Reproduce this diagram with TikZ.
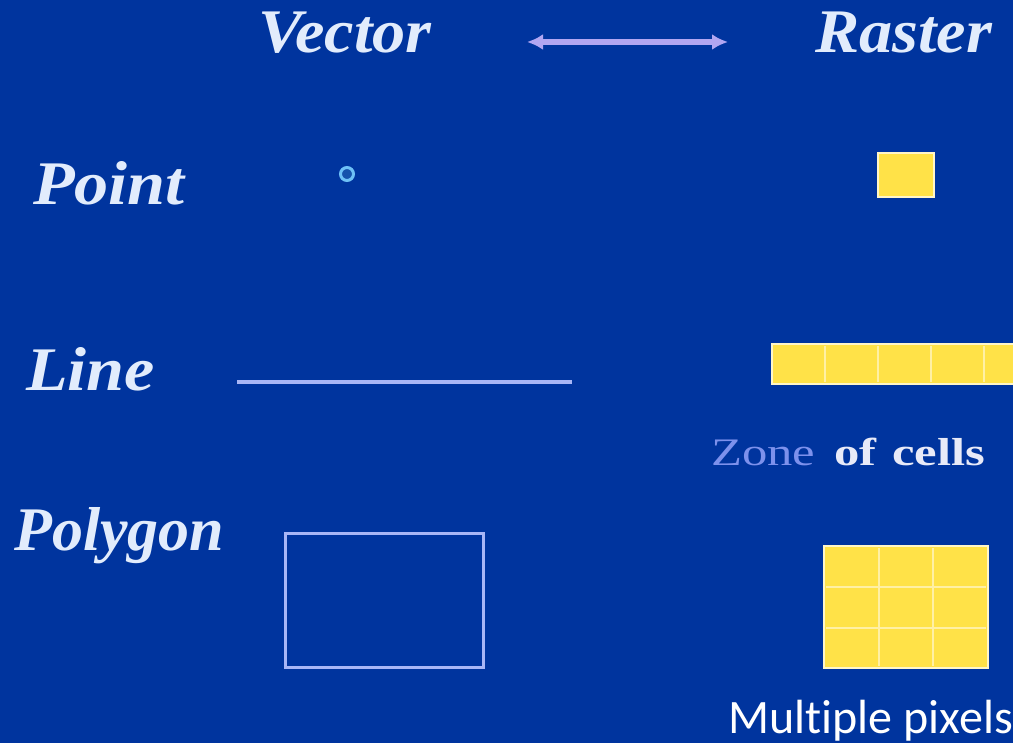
\documentclass[tikz,border=0pt]{standalone}
\usepackage{fontspec}
\setmainfont{Liberation Serif}
\newfontfamily\labelsans[Ligatures={NoCommon,NoRequired,NoContextual}]{Carlito}
\usetikzlibrary{arrows.meta}

\definecolor{slidebg}{RGB}{0,52,158}
\definecolor{titlefg}{RGB}{226,236,252}
\definecolor{arrowfg}{RGB}{178,166,242}
\definecolor{vecline}{RGB}{168,182,246}
\definecolor{ringfg}{RGB}{110,192,246}
\definecolor{ringin}{RGB}{22,82,172}
\definecolor{cellfill}{RGB}{255,226,72}
\definecolor{cellgrid}{RGB}{255,240,165}
\definecolor{cellrim}{RGB}{255,246,200}
\definecolor{zonefg}{RGB}{125,145,236}
\definecolor{cellsfg}{RGB}{232,234,248}

\tikzset{
  heading/.style={text=titlefg, inner sep=0pt, anchor=base west,
    font=\fontsize{62}{62}\selectfont\bfseries\itshape},
  caption/.style={inner sep=0pt, anchor=base west,
    font=\fontsize{39}{39}\selectfont},
  vecshape/.style={draw=vecline, line width=3.5pt},
  cellblock/.style={fill=cellfill, draw=cellrim, line width=2pt},
  cellline/.style={draw=cellgrid, line width=1.6pt},
}

\begin{document}
\begin{tikzpicture}[x=1pt, y=-1pt]
  \fill[slidebg] (0,0) rectangle (1013,743);
  \useasboundingbox (0,0) rectangle (1013,743);

  % column headings
  \node[heading, xscale=1.07] (vec) at (258,53) {Vector};
  \node[heading, xscale=1.07] (ras) at (815,53) {Raster};
  \coordinate (al) at (527,42);
  \coordinate (ar) at (728,42);
  \draw[arrowfg, line width=5.5pt, {Latex[length=16pt,width=16pt]}-{Latex[length=16pt,width=16pt]}] (al) -- (ar);

  % row headings
  \node[heading, xscale=1.1] (pt) at (33,205) {Point};
  \node[heading, xscale=1.1] (ln) at (26,391) {Line};
  \node[heading, xscale=1.0] (pg) at (14,550) {Polygon};

  % point
  \node[circle, draw=ringfg, fill=ringin, line width=3pt, minimum size=13pt, inner sep=0pt] (vpt) at (347,174) {};
  \node[cellblock, minimum width=56pt, minimum height=44pt, inner sep=0pt] (rpt) at (906,175) {};

  % line
  \coordinate (l1) at (237,382);
  \coordinate (l2) at (572,382);
  \draw[vecshape] (l1) -- (l2);
  \fill[cellfill] (772,344) rectangle (1013,384);
  \foreach \cx in {825,878,931,984}
    \draw[cellline] (\cx,346) -- (\cx,382);
  \draw[draw=cellrim, line width=2pt] (1013,344) -- (772,344) -- (772,384) -- (1013,384);

  \node[caption, text=zonefg, xscale=1.3] (zone) at (711,465) {Zone};
  \node[caption, text=cellsfg, xscale=1.3, font=\fontsize{39}{39}\selectfont\bfseries] (of) at (834,465) {of};
  \node[caption, text=cellsfg, xscale=1.3, font=\fontsize{39}{39}\selectfont\bfseries] (cl) at (892,465) {cells};

  % polygon
  \draw[vecshape, line width=3pt] (285,533) rectangle (483,667);
  \fill[cellfill] (824,546) rectangle (988,668);
  \foreach \cx in {879,933}
    \draw[cellline] (\cx,548) -- (\cx,666);
  \foreach \cy in {587,628}
    \draw[cellline] (826,\cy) -- (986,\cy);
  \draw[draw=cellrim, line width=2pt] (824,546) rectangle (988,668);

  \node[inner sep=0pt, anchor=base west, text=white, font=\labelsans\fontsize{48}{48}\selectfont] (mp) at (728,733) {Multiple pixels};
\end{tikzpicture}
\end{document}
